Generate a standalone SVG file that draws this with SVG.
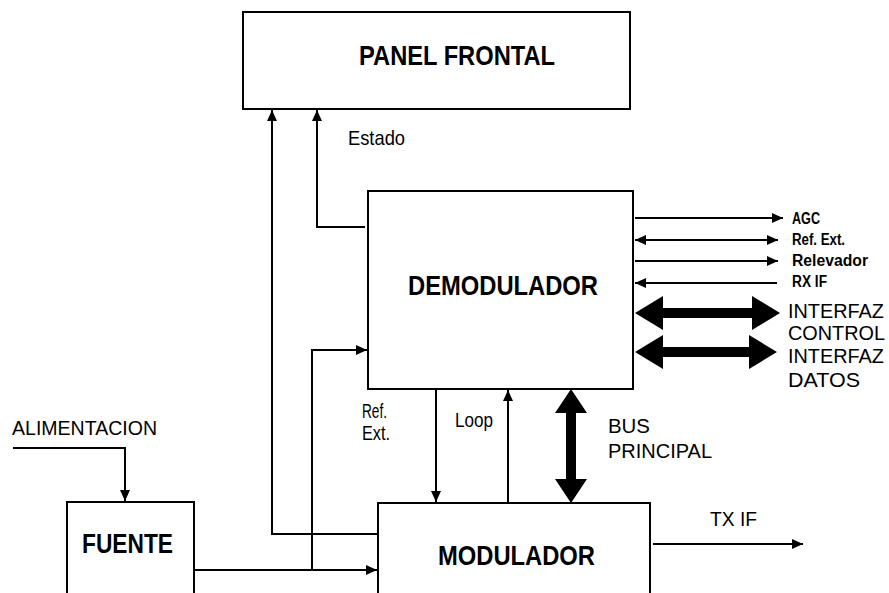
<svg xmlns="http://www.w3.org/2000/svg" width="889" height="593" viewBox="0 0 889 593">
<style>
.box{fill:#fff;stroke:#000;stroke-width:2}
.ln{fill:none;stroke:#000;stroke-width:2}
.t{font-family:"Liberation Sans",Arial,sans-serif;font-weight:bold;font-size:28px;fill:#000}
.l{font-family:"Liberation Sans",Arial,sans-serif;font-size:21px;fill:#000}
.b{font-weight:bold;font-size:16px}
.big{fill:#000;stroke:none}
</style>
<defs>
<marker id="ah" markerUnits="userSpaceOnUse" markerWidth="12" markerHeight="10" refX="11" refY="5" orient="auto-start-reverse">
<path d="M0,0 L11,5 L0,10 z" fill="#000"/>
</marker>
</defs>
<g id="panel-frontal">
<rect class="box" x="243" y="12" width="387" height="97"/>
<text class="t" x="359" y="65" textLength="196" lengthAdjust="spacingAndGlyphs">PANEL FRONTAL</text>
</g>
<g id="demodulador">
<rect class="box" x="368" y="191" width="265" height="198"/>
<text class="t" x="408" y="295" textLength="190" lengthAdjust="spacingAndGlyphs">DEMODULADOR</text>
</g>
<g id="fuente">
<rect class="box" x="67" y="502" width="127" height="110"/>
<text class="t" x="82" y="553" textLength="91" lengthAdjust="spacingAndGlyphs">FUENTE</text>
</g>
<g id="modulador">
<rect class="box" x="378" y="503" width="272" height="110"/>
<text class="t" x="438" y="565" textLength="157" lengthAdjust="spacingAndGlyphs">MODULADOR</text>
</g>
<g id="connectors">
<polyline class="ln" points="378,534 272,534 272,110" marker-end="url(#ah)"/>
<polyline class="ln" points="365,227 317,227 317,110" marker-end="url(#ah)"/>
<polyline class="ln" points="194,570 377,570" marker-end="url(#ah)"/>
<polyline class="ln" points="312,570 312,350 367,350" marker-end="url(#ah)"/>
<polyline class="ln" points="13,448 125,448 125,501" marker-end="url(#ah)"/>
<line class="ln" x1="436" y1="389" x2="436" y2="502" marker-end="url(#ah)"/>
<line class="ln" x1="508" y1="503" x2="508" y2="390" marker-end="url(#ah)"/>
<polygon class="big" points="571,389 587,413 576,413 576,479 587,479 571,503 555,479 566,479 566,413 555,413"/>
<line class="ln" x1="653" y1="544" x2="803" y2="544" marker-end="url(#ah)"/>
<line class="ln" x1="635" y1="218" x2="783" y2="218" marker-end="url(#ah)"/>
<line class="ln" x1="635" y1="240" x2="778" y2="240" marker-start="url(#ah)" marker-end="url(#ah)"/>
<line class="ln" x1="635" y1="261" x2="778" y2="261" marker-end="url(#ah)"/>
<line class="ln" x1="777" y1="283" x2="635" y2="283" marker-end="url(#ah)"/>
<polygon class="big" points="635,313 663,296 663,308 752,308 752,296 780,313 752,330 752,318 663,318 663,330"/>
<polygon class="big" points="635,352 663,335 663,347 749,347 749,335 777,352 749,369 749,357 663,357 663,369"/>
</g>
<g id="labels">
<text class="l" x="348" y="145" textLength="57" lengthAdjust="spacingAndGlyphs">Estado</text>
<text class="l" x="12" y="435" font-size="22" textLength="145" lengthAdjust="spacingAndGlyphs">ALIMENTACION</text>
<text class="l" x="362" y="418" textLength="25" lengthAdjust="spacingAndGlyphs">Ref.</text>
<text class="l" x="362" y="440" textLength="28" lengthAdjust="spacingAndGlyphs">Ext.</text>
<text class="l" x="455" y="427" font-size="18" textLength="38" lengthAdjust="spacingAndGlyphs">Loop</text>
<text class="l" x="608" y="433" textLength="42" lengthAdjust="spacingAndGlyphs">BUS</text>
<text class="l" x="608" y="458" textLength="104" lengthAdjust="spacingAndGlyphs">PRINCIPAL</text>
<text class="l" x="710" y="526" textLength="47" lengthAdjust="spacingAndGlyphs">TX IF</text>
<text class="l b" x="792" y="224" textLength="28" lengthAdjust="spacingAndGlyphs">AGC</text>
<text class="l b" x="792" y="245" textLength="53" lengthAdjust="spacingAndGlyphs">Ref. Ext.</text>
<text class="l b" x="792" y="266" textLength="76" lengthAdjust="spacingAndGlyphs">Relevador</text>
<text class="l b" x="792" y="287" textLength="35" lengthAdjust="spacingAndGlyphs">RX IF</text>
<text class="l" x="788" y="318" font-size="24" textLength="96" lengthAdjust="spacingAndGlyphs">INTERFAZ</text>
<text class="l" x="788" y="340" font-size="24" textLength="97" lengthAdjust="spacingAndGlyphs">CONTROL</text>
<text class="l" x="788" y="363" font-size="24" textLength="96" lengthAdjust="spacingAndGlyphs">INTERFAZ</text>
<text class="l" x="788" y="387" font-size="24" textLength="72" lengthAdjust="spacingAndGlyphs">DATOS</text>
</g>
</svg>
